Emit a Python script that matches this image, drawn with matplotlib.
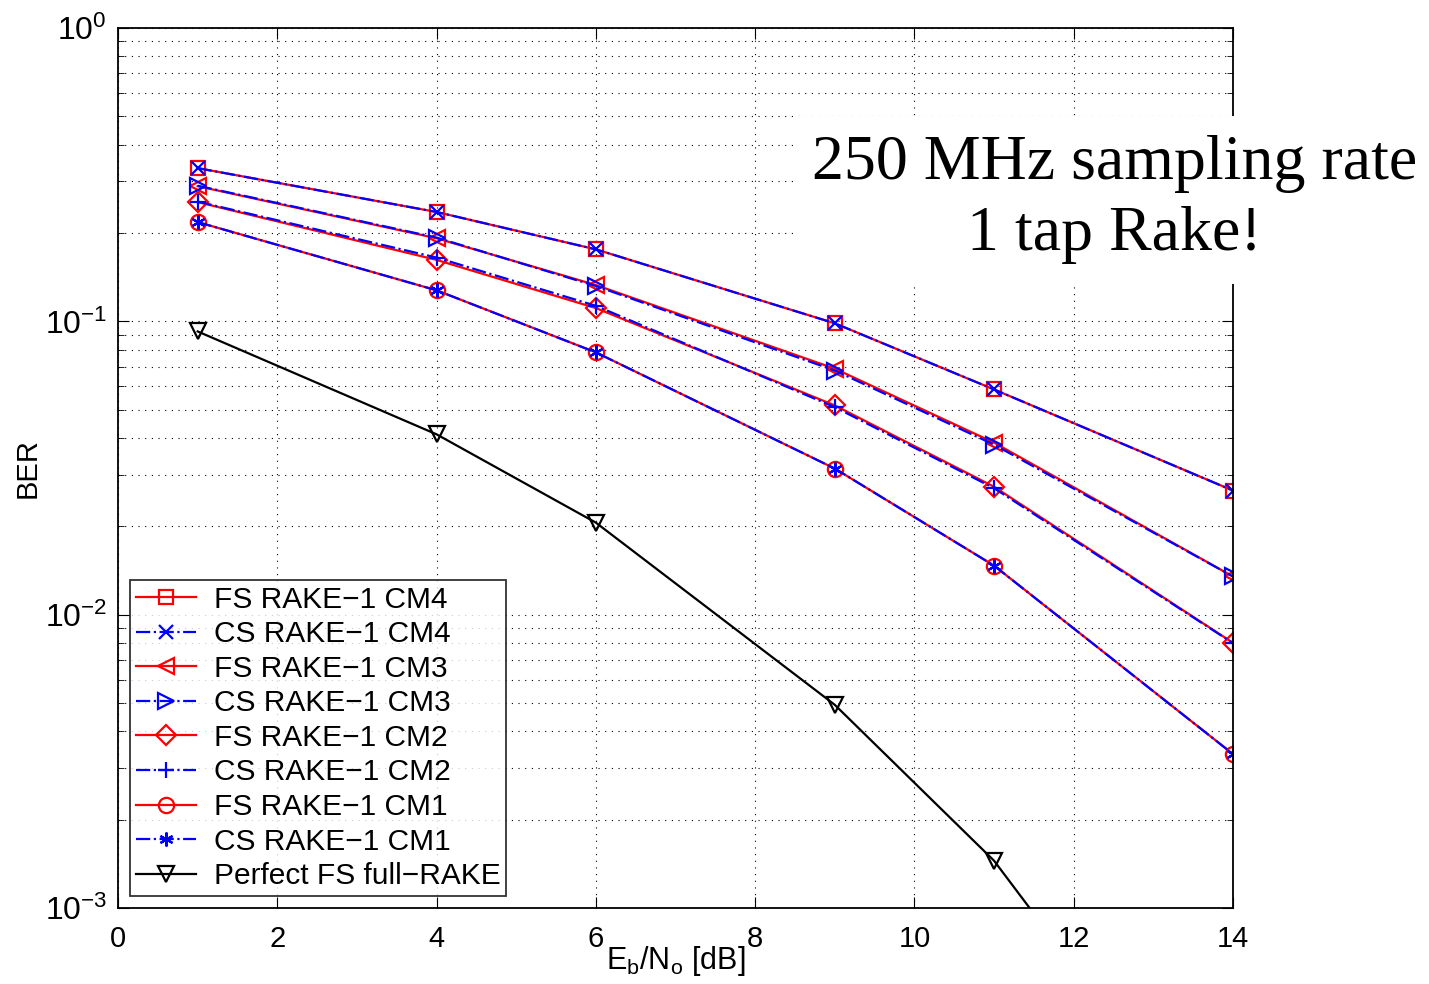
import numpy as np
import matplotlib.pyplot as plt
from matplotlib.ticker import FixedLocator, FuncFormatter

# Eb/No points
ebno = [1, 4, 6, 9, 11, 14]

# BER curves
fs_cm4 = [0.333, 0.236, 0.176, 0.0985, 0.0586, 0.0265]
cs_cm4 = [0.333, 0.236, 0.176, 0.0985, 0.0586, 0.0265]
fs_cm3 = [0.289, 0.192, 0.133, 0.069, 0.0386, 0.0135]
cs_cm3 = [0.290, 0.193, 0.132, 0.068, 0.0380, 0.0135]
fs_cm2 = [0.255, 0.162, 0.111, 0.0517, 0.0273, 0.00802]
cs_cm2 = [0.256, 0.165, 0.113, 0.0510, 0.0270, 0.00800]
fs_cm1 = [0.218, 0.1276, 0.0784, 0.0315, 0.0147, 0.00335]
cs_cm1 = [0.218, 0.1276, 0.0784, 0.0315, 0.0147, 0.00335]
perfect = [0.0924, 0.0412, 0.0206, 0.00493, 0.00145, 0.00012]

plt.rcParams['font.family'] = ['Liberation Sans', 'DejaVu Sans']
plt.rcParams['mathtext.fontset'] = 'custom'
plt.rcParams['mathtext.rm'] = 'Liberation Sans'
plt.rcParams['mathtext.it'] = 'Liberation Sans'
plt.rcParams['mathtext.sf'] = 'Liberation Sans'

fig = plt.figure(figsize=(14.29, 9.84), dpi=100)
ax = fig.add_axes([0.0826, 0.0772, 0.7802, 0.8943])

lw = 1.6
ms = 10
ax.semilogy(ebno, fs_cm4, '-', color='red', marker='s', ms=ms, mfc='none', mew=1.6, lw=lw, label='FS RAKE\u22121 CM4')
ax.semilogy(ebno, cs_cm4, '-.', color='blue', marker='x', ms=ms, mew=1.6, lw=lw, label='CS RAKE\u22121 CM4')
ax.semilogy(ebno, fs_cm3, '-', color='red', marker='<', ms=ms + 2, mfc='none', mew=1.6, lw=lw, label='FS RAKE\u22121 CM3')
ax.semilogy(ebno, cs_cm3, '-.', color='blue', marker='>', ms=ms + 2, mfc='none', mew=1.6, lw=lw, label='CS RAKE\u22121 CM3')
ax.semilogy(ebno, fs_cm2, '-', color='red', marker='D', ms=ms, mfc='none', mew=1.6, lw=lw, label='FS RAKE\u22121 CM2')
ax.semilogy(ebno, cs_cm2, '-.', color='blue', marker='+', ms=ms + 2, mew=1.6, lw=lw, label='CS RAKE\u22121 CM2')
ax.semilogy(ebno, fs_cm1, '-', color='red', marker='o', ms=ms + 1, mfc='none', mew=1.6, lw=lw, label='FS RAKE\u22121 CM1')
ax.semilogy(ebno, cs_cm1, '-.', color='blue', marker=(6, 2, 0), ms=ms, mew=1.6, lw=lw, label='CS RAKE\u22121 CM1')
ax.semilogy(ebno, perfect, '-', color='black', marker='v', ms=ms + 2, mfc='none', mew=1.6, lw=lw, label='Perfect FS full\u2212RAKE')

ax.set_xlim(0, 14)
ax.set_ylim(1e-3, 1)
ax.set_xticks(range(0, 15, 2))
ax.yaxis.set_major_locator(FixedLocator([1e-3, 1e-2, 1e-1, 1]))
ax.yaxis.set_major_formatter(FuncFormatter(lambda v, p: r'$10^{%d}$' % round(np.log10(v))))
ax.tick_params(which='both', direction='in', top=True, right=True)
ax.tick_params(axis='x', labelsize=21, pad=12)
ax.tick_params(axis='y', labelsize=23, pad=8)
ax.tick_params(which='major', length=8)
ax.tick_params(which='minor', length=4)
ax.grid(True, which='major', ls=(0, (1, 5)), color='black', lw=0.8)
ax.grid(True, which='minor', axis='y', ls=(0, (1, 5)), color='black', lw=0.8)
for s in ax.spines.values():
    s.set_linewidth(1.3)

ax.set_xlabel(r'E$_\mathrm{b}$/N$_\mathrm{o}$ [dB]', fontsize=22, labelpad=-6)
ax.set_ylabel('BER', fontsize=21, labelpad=2)

leg = ax.legend(loc='lower left', fontsize=21.5, frameon=True, fancybox=False,
                edgecolor='black', borderaxespad=0.4, handlelength=2.0,
                handletextpad=0.6, labelspacing=0.22, borderpad=0.2)
leg.get_frame().set_linewidth(1.3)

fig.text(0.78, 0.797, '250 MHz sampling rate\n1 tap Rake!', ha='center', va='center',
         fontsize=46, family='Liberation Serif', linespacing=1.3,
         bbox=dict(facecolor='white', edgecolor='none', pad=14), zorder=10)

fig.savefig('out.png', dpi=100)
